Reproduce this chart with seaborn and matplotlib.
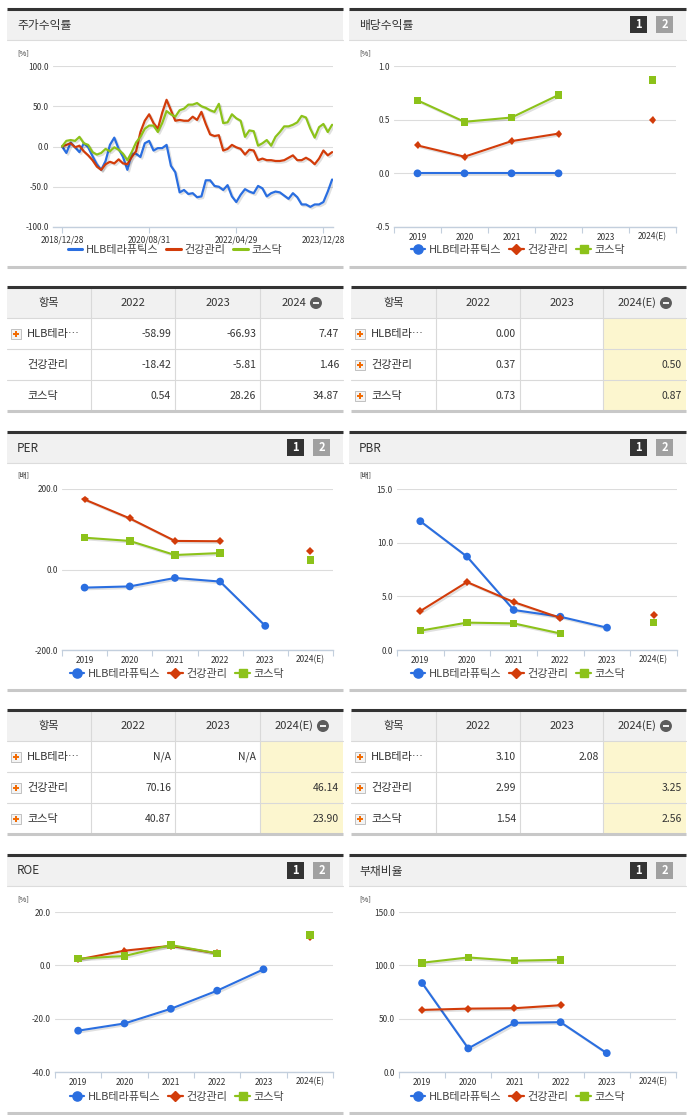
import matplotlib
matplotlib.use('Agg')
import numpy as np
import pandas as pd
import matplotlib.pyplot as plt
import seaborn as sns
import matplotlib.patheffects as pe
from matplotlib.patches import Rectangle, Circle
from matplotlib.lines import Line2D

# ---- data ----
names = ['HLB테라퓨틱스', '건강관리', '코스닥']
colors = ['#2a6ee0', '#d23c0a', '#8cc21a']
markers = ['o', 'D', 's']
msizes = [5.6, 4.0, 5.4]

# 주가수익률 (month-end, from 2018/12/28)
ret_hlb = [0, -8, 5, -1, -7, 4, -1, -12, -22, -29, -18, 2, 11, -3, -13, -29, -9, -9, -13, 4, 7,
           -5, -2, -2, 2, -24, -32, -57, -54, -59, -58, -63, -62, -42, -42, -49, -50, -54, -48, -62, -69,
           -60, -53, -56, -58, -49, -52, -62, -58, -56, -57, -61, -65, -58, -63, -72, -72, -75, -72, -72,
           -69, -56, -41]
ret_health = [0, 2, 4, -1, 1, -6, -11, -17, -25, -29, -22, -19, -21, -16, -21, -22, -13, -6, 18, 32, 40,
              29, 22, 42, 58, 45, 32, 33, 32, 32, 37, 33, 43, 28, 15, 13, 14, -5, -3, 2, -1,
              -3, -10, -4, -5, -17, -15, -17, -17, -18, -18, -17, -14, -11, -17, -17, -14, -17, -22, -15,
              -5, -11, -7]
ret_kosdaq = [0, 7, 8, 7, 12, 4, 2, -7, -10, -8, -3, -6, -1, -4, -9, -17, -7, 5, 12, 22, 26,
              26, 18, 29, 44, 40, 37, 45, 47, 52, 52, 54, 50, 48, 45, 43, 53, 29, 30, 40, 35,
              32, 12, 20, 19, 1, 4, 8, 1, 12, 18, 25, 25, 27, 30, 38, 36, 22, 11, 24,
              28, 18, 27]
ret_tick_idx = [0, 20, 40, 60]
ret_tick_labels = ['2018/12/28', '2020/08/31', '2022/04/29', '2023/12/28']

years = ['2019', '2020', '2021', '2022', '2023', '2024(E)']
nan = np.nan
div_hlb = [0.0, 0.0, 0.0, 0.0, nan, nan]
div_health = [0.26, 0.155, 0.30, 0.37, nan, 0.50]
div_kosdaq = [0.68, 0.48, 0.52, 0.73, nan, 0.87]

per_hlb = [-45, -42, -21, -30, -140, nan]
per_health = [174, 127, 71, 70.16, nan, 46.14]
per_kosdaq = [79, 71, 36, 40.87, nan, 23.90]

pbr_hlb = [12.0, 8.7, 3.73, 3.10, 2.08, nan]
pbr_health = [3.63, 6.33, 4.47, 2.99, nan, 3.25]
pbr_kosdaq = [1.8, 2.55, 2.48, 1.54, nan, 2.56]

roe_hlb = [-24.5, -21.8, -16.3, -9.5, -1.5, nan]
roe_health = [2.2, 5.5, 7.3, 4.5, nan, 10.5]
roe_kosdaq = [2.5, 3.5, 7.6, 4.5, nan, 11.3]

debt_hlb = [83.4, 22.1, 46.1, 46.7, 17.7, nan]
debt_health = [58.2, 59.4, 59.8, 62.6, nan, nan]
debt_kosdaq = [102.4, 107.4, 104.3, 105.2, nan, nan]

row_names = ['HLB테라…', '건강관리', '코스닥']
ret_cols = ['2022', '2023', '2024']
ret_vals = [['-58.99', '-66.93', '7.47'], ['-18.42', '-5.81', '1.46'], ['0.54', '28.26', '34.87']]
est_cols = ['2022', '2023', '2024(E)']
div_vals = [['0.00', '', ''], ['0.37', '', '0.50'], ['0.73', '', '0.87']]
per_vals = [['N/A', 'N/A', ''], ['70.16', '', '46.14'], ['40.87', '', '23.90']]
pbr_vals = [['3.10', '2.08', ''], ['2.99', '', '3.25'], ['1.54', '', '2.56']]

# ---- figure ----
sns.set_style('white')
plt.rcParams['font.family'] = ['Noto Sans CJK KR', 'DejaVu Sans']
plt.rcParams['axes.unicode_minus'] = False

W, H = 691, 1115
fig = plt.figure(figsize=(W / 100, H / 100), dpi=100)
bg = fig.add_axes([0, 0, 1, 1], zorder=0)
bg.set_xlim(0, W)
bg.set_ylim(H, 0)
bg.axis('off')

TXT = '#333333'
shadow = [pe.SimpleLineShadow(offset=(1.2, -1.2), shadow_color='black', alpha=0.12), pe.Normal()]


def px_axes(l, t, r, b):
    ax = fig.add_axes([l / W, 1 - b / H, (r - l) / W, (b - t) / H], zorder=2)
    ax.set_facecolor('none')
    return ax


def panel(x0, x1, y0, title, unit, boxes=True):
    bg.add_patch(Rectangle((x0, y0 + 2), x1 - x0, 30, fc='#f1f1f1', ec='none'))
    bg.plot([x0, x1], [y0 + 1, y0 + 1], color='#333333', lw=2.2, solid_capstyle='butt')
    bg.plot([x0, x1], [y0 + 32, y0 + 32], color='#dcdcdc', lw=0.8)
    bg.plot([x0, x1], [y0 + 259, y0 + 259], color='#c8c8c8', lw=2.2, solid_capstyle='butt')
    bg.text(x0 + 10, y0 + 17, title, fontsize=8.5, color=TXT, va='center', ha='left')
    bg.text(x0 + 10, y0 + 45, unit, fontsize=5.5, color=TXT, va='center', ha='left')
    if boxes:
        for bx, fc, lab in [(x1 - 56, '#333333', '1'), (x1 - 30, '#a0a0a0', '2')]:
            bg.add_patch(Rectangle((bx, y0 + 8), 17, 17, fc=fc, ec='none'))
            bg.text(bx + 8.5, y0 + 16.5, lab, fontsize=8, fontweight='bold', color='white',
                    ha='center', va='center')


def style_axes(ax, yticks, ylim):
    ax.set_ylim(ylim)
    ax.set_yticks(yticks)
    ax.set_yticklabels([f'{v:.1f}' for v in yticks])
    ax.grid(axis='y', color='#dcdcdc', lw=0.8)
    ax.grid(axis='x', visible=False)
    for s in ['top', 'right', 'left']:
        ax.spines[s].set_visible(False)
    ax.spines['bottom'].set_color('#c3cfdd')
    ax.spines['bottom'].set_linewidth(1.0)
    ax.tick_params(axis='y', length=0, labelsize=6, pad=3, labelcolor=TXT)
    ax.set_xlabel('')
    ax.set_ylabel('')


def add_legend(ax, cx, cy, with_markers=True):
    handles = []
    for n, c, m, ms in zip(names, colors, markers, msizes):
        if with_markers:
            handles.append(Line2D([0], [0], color=c, lw=1.6, marker=m, markersize=ms + 1, label=n))
        else:
            handles.append(Line2D([0], [0], color=c, lw=2.2, label=n))
    ax.legend(handles=handles, loc='center', bbox_to_anchor=(cx, cy), bbox_transform=bg.transData,
              ncol=3, frameon=False, fontsize=8, handlelength=1.3, handletextpad=0.35,
              columnspacing=0.7, labelcolor='#444444')


def cat_chart(box, series, yticks, ylim, cx, legend_y):
    ax = px_axes(*box)
    for vals, c, m, ms in zip(series, colors, markers, msizes):
        df = pd.DataFrame({'pos': range(len(years)), 'val': vals})
        df['seg'] = df['val'].isna().cumsum()
        df = df.dropna()
        sns.lineplot(data=df, x='pos', y='val', units='seg', estimator=None, color=c, marker=m,
                     markersize=ms, markeredgewidth=0, lw=1.5, ax=ax, legend=False,
                     path_effects=shadow)
    ax.set_xlim(-0.5, len(years) - 0.5)
    style_axes(ax, yticks, ylim)
    ax.set_xticks(np.arange(len(years) + 1) - 0.5)
    ax.set_xticklabels([])
    ax.tick_params(axis='x', which='major', length=4, width=0.8, color='#c3cfdd', bottom=True)
    ax.set_xticks(range(len(years)), minor=True)
    ax.set_xticklabels(years, minor=True)
    ax.tick_params(axis='x', which='minor', length=0, labelsize=6, pad=4, labelcolor=TXT)
    add_legend(ax, cx, legend_y)
    return ax


def table(cols, y0, headers, vals, plus_rows, yellow):
    x0, x1 = cols[0], cols[-1]
    bg.add_patch(Rectangle((x0, y0 + 1), x1 - x0, 30, fc='#f1f1f1', ec='none'))
    if yellow:
        bg.add_patch(Rectangle((cols[-2], y0 + 31), x1 - cols[-2], 93, fc='#fcf6cf', ec='none'))
    for k in range(1, 4):
        bg.plot([x0, x1], [y0 + 31 * k, y0 + 31 * k], color='#d9d9d9', lw=0.8)
    for cx in cols[1:-1]:
        bg.plot([cx, cx], [y0, y0 + 124], color='#d9d9d9', lw=0.8)
    bg.plot([x0, x1], [y0, y0], color='#333333', lw=2.2, solid_capstyle='butt')
    bg.plot([x0, x1], [y0 + 124, y0 + 124], color='#c8c8c8', lw=2.2, solid_capstyle='butt')

    cy = y0 + 16
    bg.text((cols[0] + cols[1]) / 2, cy, '항목', fontsize=8, color=TXT, ha='center', va='center')
    renderer = fig.canvas.get_renderer()
    for j, h in enumerate(headers):
        c0, c1 = cols[j + 1], cols[j + 2]
        mid = (c0 + c1) / 2
        if j == len(headers) - 1:
            t = bg.text(0, cy, h, fontsize=8, color=TXT, ha='left', va='center')
            tw = t.get_window_extent(renderer).width
            gw = tw + 4 + 12
            t.set_x(mid - gw / 2)
            circ_x = mid - gw / 2 + tw + 4 + 6
            bg.add_patch(Circle((circ_x, cy), 6, fc='#5c5c5c', ec='none'))
            bg.plot([circ_x - 3, circ_x + 3], [cy, cy], color='white', lw=1.3, solid_capstyle='butt')
        else:
            bg.text(mid, cy, h, fontsize=8, color=TXT, ha='center', va='center')

    for i, name in enumerate(row_names):
        ry = y0 + 47 + 31 * i
        if i in plus_rows:
            px = x0 + 9
            bg.add_patch(Rectangle((px - 5, ry - 5), 10, 10, fc='#f4f4f4', ec='#b8b8b8', lw=0.6))
            bg.plot([px - 3, px + 3], [ry, ry], color='#f26a00', lw=1.4, solid_capstyle='butt')
            bg.plot([px, px], [ry - 3, ry + 3], color='#f26a00', lw=1.4, solid_capstyle='butt')
        bg.text(x0 + 20, ry, name, fontsize=8, color=TXT, ha='left', va='center')
        for j, v in enumerate(vals[i]):
            bg.text(cols[j + 2] - 4, ry, v, fontsize=7.5, color=TXT, ha='right', va='center')


# ---- row 1: 주가수익률 / 배당수익률 ----
LX0, LX1, RX0, RX1 = 7, 343, 349, 686
panel(LX0, LX1, 8, '주가수익률', '[%]', boxes=False)
panel(RX0, RX1, 8, '배당수익률', '[%]')

ax = px_axes(53, 66, 333, 227)
months = list(range(len(ret_hlb)))
for vals, c in zip([ret_hlb, ret_health, ret_kosdaq], colors):
    sns.lineplot(x=months, y=vals, color=c, lw=1.6, ax=ax, legend=False, path_effects=shadow)
ax.set_xlim(-2.07, 62.2)
style_axes(ax, [-100, -50, 0, 50, 100], (-100, 100))
ax.set_xticks(ret_tick_idx)
ax.set_xticklabels(ret_tick_labels)
ax.tick_params(axis='x', length=4, width=0.8, color='#c3cfdd', bottom=True, labelsize=6, pad=2,
               labelcolor=TXT)
add_legend(ax, 175, 250, with_markers=False)

cat_chart((394, 66, 676, 227), [div_hlb, div_health, div_kosdaq], [-0.5, 0.0, 0.5, 1.0],
          (-0.5, 1.0), 518, 250)

table([7, 91, 175, 260, 343], 287, ret_cols, ret_vals, [0], False)
table([351, 436, 520, 603, 686], 287, est_cols, div_vals, [0, 1, 2], True)

# ---- row 2: PER / PBR ----
panel(LX0, LX1, 431, 'PER', '[배]')
panel(RX0, RX1, 431, 'PBR', '[배]')
cat_chart((62, 489, 333, 650), [per_hlb, per_health, per_kosdaq], [-200, 0, 200],
          (-200, 200), 177, 674)
cat_chart((397, 489, 677, 650), [pbr_hlb, pbr_health, pbr_kosdaq], [0, 5, 10, 15],
          (0, 15), 518, 674)

table([7, 91, 175, 260, 343], 710, est_cols, per_vals, [0, 1, 2], True)
table([351, 436, 520, 603, 686], 710, est_cols, pbr_vals, [0, 1, 2], True)

# ---- row 3: ROE / 부채비율 ----
panel(LX0, LX1, 854, 'ROE', '[%]')
panel(RX0, RX1, 854, '부채비율', '[%]')
cat_chart((55, 912, 333, 1072), [roe_hlb, roe_health, roe_kosdaq], [-40, -20, 0, 20],
          (-40, 20), 177, 1097)
cat_chart((399, 912, 676, 1072), [debt_hlb, debt_health, debt_kosdaq], [0, 50, 100, 150],
          (0, 150), 518, 1097)

fig.savefig('out.png', dpi=100, facecolor='white')
